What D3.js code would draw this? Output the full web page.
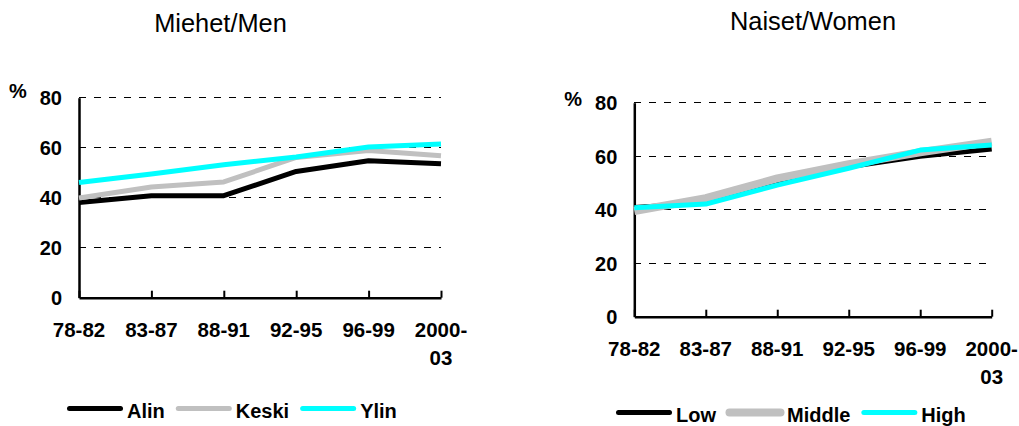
<!DOCTYPE html>
<html>
<head>
<meta charset="utf-8">
<script src="https://cdn.jsdelivr.net/npm/d3@7"></script>
<style>
  html, body { margin: 0; padding: 0; background: #fff; }
  svg { display: block; font-family: "Liberation Sans", Arial, sans-serif; }
</style>
</head>
<body>
<svg id="chart" width="1019" height="426"></svg>
<script>
// ---- data ----
const categories = ["78-82", "83-87", "88-91", "92-95", "96-99", "2000-03"];
const categoryLines = [["78-82"], ["83-87"], ["88-91"], ["92-95"], ["96-99"], ["2000-", "03"]];
const yTicks = [0, 20, 40, 60, 80];

const menTitle = "Miehet/Men";
const menNames = ["Alin", "Keski", "Ylin"];
const menAlin  = [38.1, 40.8, 40.8, 50.5, 54.8, 53.6];
const menKeski = [39.9, 44.3, 46.3, 56.1, 58.9, 56.8];
const menYlin  = [46.1, 49.5, 53.2, 56.3, 60.3, 61.5];

const womenTitle = "Naiset/Women";
const womenNames = ["Low", "Middle", "High"];
const womenLow    = [40.8, 42.5, 50.2, 56.0, 60.0, 62.7];
const womenMiddle = [39.5, 44.3, 51.7, 57.0, 61.5, 65.4];
const womenHigh   = [40.7, 42.1, 49.2, 55.5, 62.3, 64.2];

const seriesColors = ["#000000", "#c0c0c0", "#00ffff"];

// ---- layout ----
const panels = [
  { title: menTitle, titleX: 220.5, titleY: 31.5, names: menNames, values: [menAlin, menKeski, menYlin],
    x0: 79, x1: 441, yBottom: 297.7, yTop: 97.7, pctDy: 0, widths: [5, 5, 5],
    legendX: 67, legendY: 408.5, legendBase: 418 },
  { title: womenTitle, titleX: 813, titleY: 29.5, names: womenNames, values: [womenLow, womenMiddle, womenHigh],
    x0: 634.3, x1: 991.7, yBottom: 316.7, yTop: 102.7, pctDy: 3, widths: [5, 8, 5],
    legendX: 616, legendY: 412.5, legendBase: 422 }
];

const svg = d3.select("#chart");

panels.forEach(p => {
  const g = svg.append("g");
  const x = d3.scalePoint().domain(categories).range([p.x0, p.x1]).padding(0);
  const y = d3.scaleLinear().domain([0, 80]).range([p.yBottom, p.yTop]);

  // title
  g.append("text").attr("x", p.titleX).attr("y", p.titleY)
    .attr("text-anchor", "middle").attr("font-size", 25.4).attr("fill", "#000")
    .text(p.title);

  // gridlines
  g.selectAll("line.grid").data(yTicks.filter(d => d > 0)).join("line")
    .attr("class", "grid")
    .attr("x1", p.x0).attr("x2", p.x1)
    .attr("y1", d => y(d)).attr("y2", d => y(d))
    .attr("stroke", "#000").attr("stroke-width", 1)
    .attr("stroke-dasharray", "7,8").attr("shape-rendering", "crispEdges");

  // y axis
  const yAxis = g.append("g").attr("transform", `translate(${p.x0},0)`)
    .call(d3.axisLeft(y).tickValues(yTicks).tickSize(0).tickPadding(17));
  yAxis.select(".domain").attr("stroke", "#000").attr("stroke-width", 2.5);
  yAxis.selectAll("text").attr("font-size", 20).attr("font-weight", "bold")
    .attr("fill", "#000").attr("font-family", "Liberation Sans, Arial, sans-serif")
    .attr("dy", "0.35em");

  // x axis
  const xAxis = g.append("g").attr("transform", `translate(0,${p.yBottom})`)
    .call(d3.axisBottom(x).tickSizeInner(-7).tickSizeOuter(0).tickFormat(""));
  xAxis.select(".domain").attr("stroke", "#000").attr("stroke-width", 2.5);
  xAxis.selectAll(".tick line").attr("stroke", "#000").attr("stroke-width", 2);

  // x labels (multi-line)
  const labels = g.selectAll("text.xl").data(categories).join("text")
    .attr("class", "xl")
    .attr("x", d => x(d)).attr("y", p.yBottom + 39)
    .attr("text-anchor", "middle").attr("font-size", 20.5).attr("font-weight", "bold").attr("fill", "#000");
  labels.each(function(d, i) {
    d3.select(this).selectAll("tspan").data(categoryLines[i]).join("tspan")
      .attr("x", x(d)).attr("dy", (t, j) => j === 0 ? 0 : 28).text(t => t);
  });

  // % label
  g.append("text").attr("x", p.x0 - 70).attr("y", y(80) + p.pctDy)
    .attr("font-size", 20).attr("font-weight", "bold").attr("fill", "#000").text("%");

  // lines
  const line = d3.line().x((d, i) => x(categories[i])).y(d => y(d));
  p.values.forEach((vals, k) => {
    g.append("path").datum(vals)
      .attr("d", line).attr("fill", "none")
      .attr("stroke", seriesColors[k]).attr("stroke-width", p.widths[k])
      .attr("stroke-linejoin", "round");
  });

  // legend
  let lx = p.legendX;
  p.names.forEach((name, k) => {
    g.append("line")
      .attr("x1", lx + 2.5).attr("x2", lx + 56 - 2.5)
      .attr("y1", p.legendY).attr("y2", p.legendY)
      .attr("stroke", seriesColors[k]).attr("stroke-width", p.widths[k])
      .attr("stroke-linecap", "round");
    const t = g.append("text").attr("x", lx + 60).attr("y", p.legendBase)
      .attr("font-size", 20).attr("font-weight", "bold").attr("fill", "#000").text(name);
    lx += 60 + t.node().getComputedTextLength() + 11;
  });
});
</script>
</body>
</html>
